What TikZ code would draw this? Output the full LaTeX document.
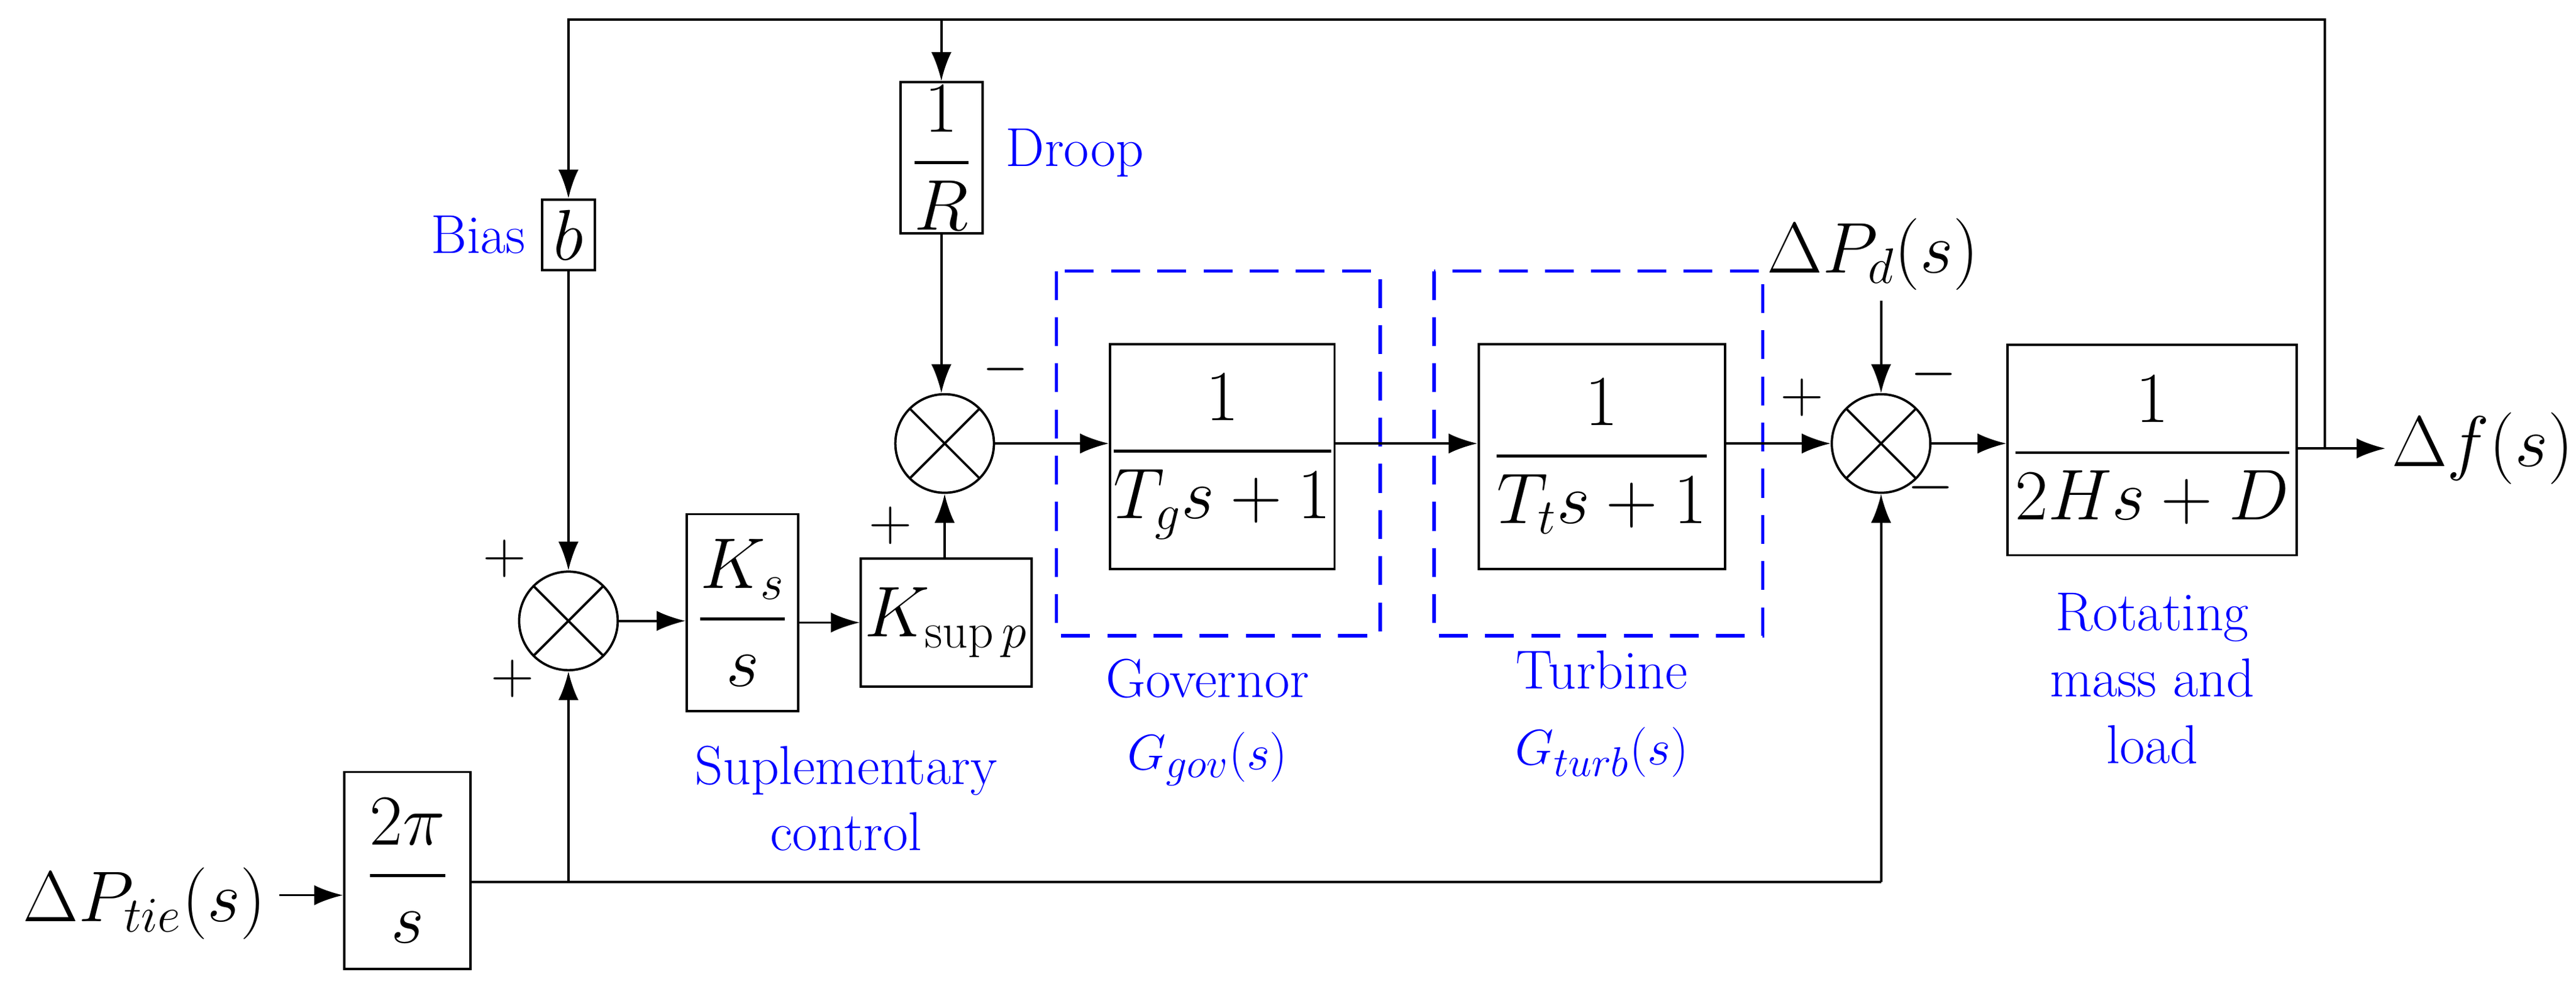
\documentclass[tikz,border=0pt]{standalone}
\usepackage{amsmath}
\usetikzlibrary{arrows.meta}
\begin{document}
\begin{tikzpicture}[x=0.02cm,y=-0.02cm,
  blk/.style={draw,thick,minimum width=#1,inner sep=0pt},
  sum/.style={draw,thick,circle,minimum size=60*0.02cm,inner sep=0pt,path picture={\draw[thick] (path picture bounding box.south west)--(path picture bounding box.north east) (path picture bounding box.north west)--(path picture bounding box.south east);}},
  lab/.style={text=blue,font=\fontsize{19}{23}\selectfont,align=center},
  sg/.style={font=\fontsize{20}{20}\selectfont},
  big/.style={font=\fontsize{24}{28}\selectfont},
  ar/.style={thick,-{Latex[length=10pt,width=7pt]}},
  ln/.style={thick},
  dsh/.style={draw=blue,very thick,dash pattern=on 10pt off 6pt}]
\useasboundingbox (0,0) rectangle (1568,603);
% boxes
\node[blk=32*0.02cm,minimum height=43*0.02cm,big] (b) at (346,143) {$b$};
\node[blk=50*0.02cm,minimum height=92*0.02cm,big] (R) at (573,96) {$\dfrac{1}{R}$};
\node[sum] (s1) at (575,270) {};
\node[sum] (s2) at (346,378) {};
\node[blk=68*0.02cm,minimum height=120*0.02cm,big] (Ks) at (452,373) {$\dfrac{K_s}{s}$};
\node[blk=104*0.02cm,minimum height=78*0.02cm,big] (Kp) at (576,379) {$K_{\mathrm{sup}\,p}$};
\node[blk=132*0.02cm,minimum height=137*0.02cm,big] (G) at (744,278) {$\dfrac{1}{T_g s+1}$};
\node[blk=150*0.02cm,minimum height=137*0.02cm,big] (T) at (975,278) {$\dfrac{1}{T_t s+1}$};
\node[sum] (s3) at (1145,270) {};
\node[blk=176*0.02cm,minimum height=128*0.02cm,big] (M) at (1310,274) {$\dfrac{1}{2Hs+D}$};
\node[blk=77*0.02cm,minimum height=120*0.02cm,big] (P) at (248,530) {$\dfrac{2\pi}{s}$};
\draw[dsh] (643,165) rectangle (840,387);
\draw[dsh] (873,165) rectangle (1073,387);
% text
\node[big] (dpd) at (1140,155) {$\Delta P_d\!\left(s\right)$};
\node[big,anchor=west,inner sep=2pt] (df) at (1452,273) {$\Delta f\!\left(s\right)$};
\node[big] (dpt) at (88,550) {$\Delta P_{tie}\!\left(s\right)$};
\node[lab,anchor=east] at (326,143) {Bias};
\node[lab,anchor=west] at (606,93) {Droop};
\node[lab] at (515,486) {Suplementary\\control};
\node[lab] at (735,413) {Governor};
\node[lab] at (735,462) {$G_{gov}(s)$};
\node[lab] at (975,408) {Turbine};
\node[lab] at (975,458) {$G_{turb}(s)$};
\node[lab] at (1310,413) {Rotating\\mass and\\load};
\node[sg] at (612,225) {$-$};
\node[sg] at (542,320) {$+$};
\node[sg] at (307,340) {$+$};
\node[sg] at (312,413) {$+$};
\node[sg] at (1097,242) {$+$};
\node[sg] at (1177,228) {$-$};
\node[sg] at (1175,297) {$-$};
% connections
\coordinate (o) at (1415,273);
\coordinate (tl) at (346,12);
\coordinate (tr) at (1415,12);
\coordinate (tm) at (573,12);
\coordinate (j) at (346,537);
\coordinate (c3) at (1145,537);
\coordinate (pin) at (170,545);
\draw[ar] (b) -- (s2);
\draw[ar] (R.south) -- (R.south |- s1.north);
\draw[ar] (s2) -- (Ks.west |- s2);
\draw[ar] (Ks.east |- Kp) -- (Kp);
\draw[ar] (s1 |- Kp.north) -- (s1);
\draw[ar] (s1) -- (G.west |- s1);
\draw[ar] (G.east |- s1) -- (T.west |- s1);
\draw[ar] (T.east |- s1) -- (s3);
\draw[ar] (s3) -- (M.west |- s3);
\draw[ar] (M.east |- df) -- (df);
\draw[ar] (s3 |- dpd.south) -- (s3);
\draw[ar] (o) -- (tr) -- (tl) -- (b);
\draw[ar] (tm) -- (R);
\draw[ar] (pin) -- (P.west |- pin);
\draw[ln] (P.east |- j) -- (c3);
\draw[ar] (c3) -- (s3);
\draw[ar] (j) -- (s2);
\end{tikzpicture}
\end{document}
